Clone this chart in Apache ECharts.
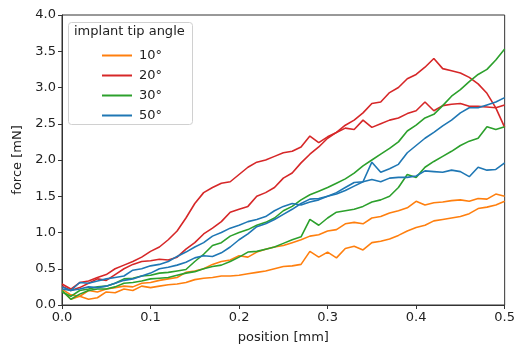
<!DOCTYPE html>
<html>
<head>
<meta charset="utf-8">
<script src="https://cdn.jsdelivr.net/npm/echarts@6/dist/echarts.min.js"></script>
<style>
html,body{margin:0;padding:0;background:#fff;}
#chart{width:518px;height:349px;}
</style>
</head>
<body>
<div id="chart"></div>
<script>
// position [mm], step 0.01
const positions = [0.00,0.01,0.02,0.03,0.04,0.05,0.06,0.07,0.08,0.09,0.10,0.11,0.12,0.13,0.14,0.15,0.16,0.17,0.18,0.19,0.20,0.21,0.22,0.23,0.24,0.25,0.26,0.27,0.28,0.29,0.30,0.31,0.32,0.33,0.34,0.35,0.36,0.37,0.38,0.39,0.40,0.41,0.42,0.43,0.44,0.45,0.46,0.47,0.48,0.49,0.50];

const angleNames = ['10°', '20°', '30°', '50°'];

const force10a = [0.22,0.14,0.12,0.20,0.18,0.22,0.24,0.26,0.25,0.30,0.31,0.34,0.36,0.38,0.45,0.47,0.50,0.56,0.60,0.62,0.68,0.66,0.73,0.77,0.80,0.82,0.86,0.90,0.95,0.97,1.02,1.04,1.12,1.14,1.12,1.20,1.22,1.27,1.30,1.34,1.43,1.38,1.41,1.42,1.44,1.45,1.43,1.47,1.46,1.53,1.50];
const force10b = [0.20,0.08,0.12,0.08,0.10,0.18,0.17,0.22,0.20,0.26,0.24,0.26,0.28,0.29,0.31,0.35,0.37,0.38,0.40,0.40,0.41,0.43,0.45,0.47,0.50,0.53,0.54,0.56,0.74,0.66,0.73,0.65,0.78,0.81,0.76,0.86,0.88,0.91,0.96,1.02,1.07,1.10,1.16,1.18,1.20,1.22,1.26,1.33,1.35,1.38,1.43];

const force20a = [0.29,0.22,0.31,0.33,0.38,0.42,0.50,0.55,0.60,0.66,0.74,0.80,0.90,1.02,1.20,1.40,1.55,1.62,1.68,1.70,1.80,1.90,1.97,2.00,2.05,2.10,2.12,2.18,2.33,2.24,2.32,2.38,2.44,2.42,2.55,2.45,2.50,2.55,2.58,2.64,2.68,2.80,2.68,2.75,2.77,2.78,2.74,2.74,2.73,2.72,2.76];
const force20b = [0.26,0.20,0.24,0.30,0.36,0.34,0.42,0.50,0.56,0.60,0.61,0.63,0.62,0.66,0.77,0.86,0.98,1.06,1.15,1.28,1.32,1.36,1.50,1.55,1.62,1.75,1.82,1.96,2.08,2.18,2.30,2.38,2.48,2.55,2.65,2.78,2.80,2.93,3.00,3.12,3.18,3.28,3.40,3.26,3.23,3.20,3.14,3.05,2.92,2.72,2.45];

const force30a = [0.18,0.12,0.20,0.22,0.25,0.26,0.30,0.36,0.37,0.40,0.41,0.44,0.45,0.47,0.49,0.60,0.70,0.82,0.86,0.95,1.00,1.04,1.10,1.14,1.20,1.30,1.36,1.45,1.52,1.57,1.62,1.68,1.74,1.82,1.92,2.00,2.08,2.16,2.25,2.40,2.48,2.58,2.63,2.75,2.88,2.97,3.08,3.18,3.25,3.38,3.53];
const force30b = [0.20,0.08,0.15,0.20,0.22,0.22,0.25,0.30,0.31,0.33,0.36,0.37,0.38,0.41,0.44,0.46,0.50,0.53,0.55,0.60,0.66,0.73,0.74,0.77,0.80,0.85,0.90,0.94,1.18,1.10,1.20,1.28,1.30,1.32,1.36,1.42,1.45,1.50,1.62,1.80,1.76,1.90,1.98,2.05,2.12,2.20,2.26,2.30,2.46,2.42,2.46];

const force50a = [0.22,0.20,0.22,0.25,0.24,0.26,0.30,0.34,0.36,0.40,0.44,0.50,0.52,0.55,0.59,0.65,0.68,0.67,0.72,0.80,0.90,0.98,1.08,1.12,1.18,1.25,1.32,1.40,1.46,1.47,1.50,1.53,1.58,1.64,1.70,1.97,1.83,1.88,1.94,2.10,2.20,2.30,2.38,2.47,2.55,2.65,2.72,2.72,2.76,2.80,2.86];
const force50b = [0.25,0.20,0.31,0.30,0.33,0.36,0.38,0.40,0.48,0.50,0.54,0.56,0.60,0.67,0.73,0.80,0.86,0.95,1.00,1.06,1.10,1.15,1.18,1.22,1.30,1.36,1.40,1.38,1.42,1.45,1.50,1.55,1.62,1.69,1.70,1.73,1.70,1.75,1.76,1.76,1.78,1.85,1.84,1.83,1.86,1.84,1.77,1.90,1.86,1.87,1.96];

const xTicks = [0, 0.1, 0.2, 0.3, 0.4, 0.5];
const yTicks = [0, 0.5, 1.0, 1.5, 2.0, 2.5, 3.0, 3.5, 4.0];

const colors = ['#ff7f0e', '#d62728', '#2ca02c', '#1f77b4'];
const groups = [
  [force10a, force10b],
  [force20a, force20b],
  [force30a, force30b],
  [force50a, force50b]
];

const series = [];
groups.forEach((pair, gi) => {
  pair.forEach(vals => {
    series.push({
      name: angleNames[gi],
      type: 'line',
      data: positions.map((p, i) => [p, vals[i]]),
      showSymbol: false,
      symbol: 'none',
      lineStyle: { color: colors[gi], width: 1.6 },
      itemStyle: { color: colors[gi] },
      animation: false,
      z: 2
    });
  });
});

const FONT = 'DejaVu Sans';
const chart = echarts.init(document.getElementById('chart'), null, { renderer: 'canvas' });
chart.setOption({
  animation: false,
  backgroundColor: '#ffffff',
  grid: { left: 62, right: 9, top: 15, bottom: 43, show: true, borderColor: '#333', borderWidth: 1, backgroundColor: 'transparent' },
  xAxis: {
    type: 'value', min: 0, max: 0.5, interval: 0.1,
    name: 'position [mm]', nameLocation: 'middle', nameGap: 26,
    nameTextStyle: { fontFamily: FONT, fontSize: 13, color: '#222' },
    axisLine: { show: true, lineStyle: { color: '#333', width: 1 } },
    axisTick: { show: true, inside: false, length: 4, lineStyle: { color: '#333' } },
    axisLabel: { fontFamily: FONT, fontSize: 13, color: '#222', margin: 6, formatter: v => v.toFixed(1) },
    splitLine: { show: false }
  },
  yAxis: {
    type: 'value', min: 0, max: 4, interval: 0.5,
    name: 'force [mN]', nameLocation: 'middle', nameGap: 38, nameRotate: 90,
    nameTextStyle: { fontFamily: FONT, fontSize: 13, color: '#222' },
    axisLine: { show: true, lineStyle: { color: '#333', width: 1 } },
    axisTick: { show: true, inside: false, length: 4, lineStyle: { color: '#333' } },
    axisLabel: { fontFamily: FONT, fontSize: 13, color: '#222', margin: 6, formatter: v => v.toFixed(1) },
    splitLine: { show: false }
  },
  legend: {
    data: angleNames,
    orient: 'vertical',
    left: 97, top: 44,
    itemWidth: 30, itemHeight: 2, itemGap: 7,
    icon: 'rect',
    z: 20, zlevel: 0,
    textStyle: { fontFamily: FONT, fontSize: 13, color: '#222', padding: [0, 0, 0, 2] },
    selectedMode: false
  },
  graphic: [
    { type: 'rect', left: 68, top: 22, z: 5, shape: { width: 124, height: 102, r: 3 },
      style: { fill: 'rgba(255,255,255,0.8)', stroke: '#d0d0d0', lineWidth: 1 } },
    { type: 'text', left: 74, top: 25, z: 21,
      style: { text: 'implant tip angle', font: '13px "DejaVu Sans"', fill: '#222' } }
  ],
  series: series
});
</script>
</body>
</html>
